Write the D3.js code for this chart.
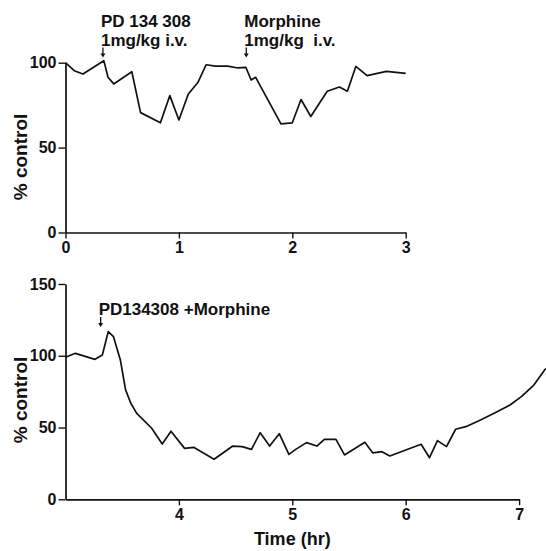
<!DOCTYPE html>
<html>
<head>
<meta charset="utf-8">
<script src="https://cdn.jsdelivr.net/npm/d3@7"></script>
<style>
  html, body { margin: 0; padding: 0; background: #fff; }
  svg { display: block; }
  text { font-family: "Liberation Sans", Arial, Helvetica, sans-serif; font-weight: bold; fill: #111; white-space: pre; }
</style>
</head>
<body>
<svg id="chart" width="546" height="551"></svg>
<script>
// ---- Data ----
const topTime  = [0, 0.077, 0.154, 0.338, 0.375, 0.425, 0.585, 0.662, 0.837, 0.92, 1.0, 1.083, 1.169, 1.24, 1.323, 1.43, 1.52, 1.59, 1.637, 1.677, 1.90, 2.0, 2.077, 2.163, 2.308, 2.415, 2.486, 2.56, 2.66, 2.83, 3.0];
const topValue = [100, 95.3, 93.3, 101.2, 91.4, 87.5, 94.7, 70.6, 64.6, 80.6, 66.3, 81.6, 88.5, 98.8, 98.0, 98.0, 96.9, 97.3, 89.8, 91.4, 64.0, 64.6, 78.3, 68.3, 83.2, 85.7, 83.2, 97.8, 92.4, 94.9, 93.7];

const bottomTime  = [3.0, 3.087, 3.26, 3.325, 3.377, 3.423, 3.484, 3.53, 3.576, 3.628, 3.76, 3.853, 3.93, 4.05, 4.13, 4.31, 4.475, 4.557, 4.64, 4.717, 4.80, 4.885, 4.97, 5.03, 5.125, 5.217, 5.283, 5.385, 5.46, 5.64, 5.71, 5.79, 5.86, 6.136, 6.21, 6.28, 6.36, 6.44, 6.53, 6.66, 6.81, 6.92, 7.02, 7.13, 7.235];
const bottomValue = [99, 101.7, 97.5, 100.5, 116.8, 113.3, 97, 76.2, 66.9, 59.9, 49.5, 38.5, 47.4, 35.5, 36.2, 27.9, 37.1, 36.7, 34.8, 46.4, 37.1, 45.7, 31.3, 34.8, 39.5, 37.1, 41.8, 41.8, 30.9, 39.7, 32.3, 33.2, 30.2, 38.3, 29, 40.9, 36.7, 48.8, 50.6, 55.3, 61.1, 65.7, 71.5, 79.6, 91.2];

const topXTicks = [0, 1, 2, 3];
const topYTicks = [0, 50, 100];
const bottomXTicks = [4, 5, 6, 7];
const bottomYTicks = [0, 50, 100, 150];

const topAnnotations = [
  { time: 0.33, value: 103, lines: ["PD 134 308", "1mg/kg i.v."] },
  { time: 1.594, value: 103, lines: ["Morphine", "1mg/kg  i.v."] }
];
const bottomAnnotations = [
  { time: 3.31, value: 120, lines: ["PD134308 +Morphine"] }
];

const yLabel = "% control";
const xLabel = "Time (hr)";

// ---- Drawing ----
const svg = d3.select("#chart");

const xTop = d3.scaleLinear().domain([0, 3]).range([65.5, 405.7]);
const yTop = d3.scaleLinear().domain([0, 100]).range([232.5, 62.7]);
const xBot = d3.scaleLinear().domain([3, 7]).range([65.5, 519.1]);
const yBot = d3.scaleLinear().domain([0, 150]).range([499.3, 284]);

function styleAxis(g) {
  g.selectAll("path.domain").attr("stroke", "#111").attr("stroke-width", 1.7);
  g.selectAll(".tick line").attr("stroke", "#111").attr("stroke-width", 1.4);
  g.selectAll(".tick text")
    .style("font-family", '"Liberation Sans", Arial, sans-serif')
    .style("font-weight", "bold")
    .style("font-size", "16px")
    .attr("fill", "#111");
}

function drawPanel(x, y, xTicks, yTicks, times, values, annotations, labelY) {
  const gx = svg.append("g")
    .attr("transform", `translate(0,${y.range()[0]})`)
    .call(d3.axisBottom(x).tickValues(xTicks).tickFormat(d3.format("d")).tickSizeInner(6).tickSizeOuter(0).tickPadding(3));
  styleAxis(gx);
  gx.selectAll(".tick text").attr("dy", "0.71em");

  const gy = svg.append("g")
    .attr("transform", `translate(${x.range()[0]},0)`)
    .call(d3.axisLeft(y).tickValues(yTicks).tickFormat(d3.format("d")).tickSizeInner(7).tickSizeOuter(0).tickPadding(2));
  styleAxis(gy);

  const line = d3.line()
    .x((d, i) => x(times[i]))
    .y((d, i) => y(values[i]));
  svg.append("path")
    .datum(values)
    .attr("d", line)
    .attr("fill", "none")
    .attr("stroke", "#111")
    .attr("stroke-width", 1.7)
    .attr("stroke-linejoin", "round");

  annotations.forEach(a => {
    const ax = x(a.time);
    const tipY = y(a.value);
    const g = svg.append("g");
    g.append("line")
      .attr("x1", ax).attr("x2", ax)
      .attr("y1", tipY - 10).attr("y2", tipY - 2)
      .attr("stroke", "#111").attr("stroke-width", 1.3);
    g.append("path")
      .attr("d", `M${ax - 2.5},${tipY - 4} L${ax + 2.5},${tipY - 4} L${ax},${tipY} Z`)
      .attr("fill", "#111");
    const nLines = a.lines.length;
    a.lines.forEach((t, i) => {
      g.append("text")
        .attr("x", ax - 2)
        .attr("y", tipY - 12 - (nLines - 1 - i) * 18.5)
        .style("font-size", "17px")
        .text(t);
    });
  });

  svg.append("text")
    .attr("transform", `translate(27,${labelY}) rotate(-90)`)
    .attr("text-anchor", "middle")
    .style("font-size", "19px")
    .text(yLabel);
}

drawPanel(xTop, yTop, topXTicks, topYTicks, topTime, topValue, topAnnotations, 157);
drawPanel(xBot, yBot, bottomXTicks, bottomYTicks, bottomTime, bottomValue, bottomAnnotations, 400);

svg.append("text")
  .attr("x", xBot(5))
  .attr("y", 545)
  .attr("text-anchor", "middle")
  .style("font-size", "18px")
  .text(xLabel);
</script>
</body>
</html>
